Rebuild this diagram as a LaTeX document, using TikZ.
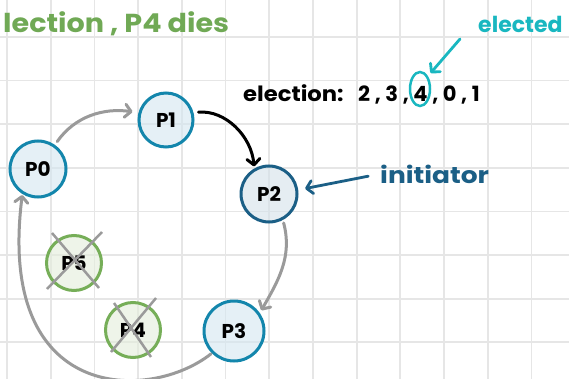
\documentclass[tikz,border=0pt]{standalone}
\usepackage{fontspec}
\setmainfont{Poppins}
\usetikzlibrary{arrows.meta,shapes.geometric}
\definecolor{gridc}{HTML}{E6E6E6}
\definecolor{teal1}{HTML}{1386AC}
\definecolor{tealfill}{HTML}{D4E7F0}
\definecolor{navy}{HTML}{1B5F86}
\definecolor{navyfill}{HTML}{D5E2EA}
\definecolor{greenc}{HTML}{76AE58}
\definecolor{greenfill}{HTML}{E3EEDB}
\definecolor{grayc}{HTML}{9A9A9A}
\definecolor{cyanc}{HTML}{19B7C0}
\definecolor{titlegreen}{HTML}{70A955}
\tikzset{
  proc/.style={circle, line width=3pt, minimum size=55pt, inner sep=0pt,
    font=\fontsize{20}{20}\selectfont\bfseries, text=black},
  alive/.style={proc, draw=teal1, fill=tealfill, fill opacity=0.6, text opacity=1},
  starter/.style={proc, draw=navy, fill=navyfill, fill opacity=0.6, text opacity=1},
  dead/.style={proc, draw=greenc, fill=greenfill, fill opacity=0.6, text opacity=1},
  cross/.style={draw=grayc, line width=2.5pt},
  barb/.style={-{Straight Barb[length=6pt,width=13pt,round]}},
  msg/.style={line width=3pt, line cap=round, barb},
  hand/.style={inner sep=0pt, anchor=base west},
}
\begin{document}
\begin{tikzpicture}[x=1pt,y=-1pt]
\useasboundingbox (0,0) rectangle (569,379);
\fill[white] (0,0) rectangle (569,379);
\foreach \i in {0,...,12} \draw[gridc, line width=1.8pt] ({7+43.7*\i},0) -- ({7+43.7*\i},379);
\foreach \j in {0,...,7} \draw[gridc, line width=1.8pt] (0,{37+43.6*\j}) -- (569,{37+43.6*\j});

% processes
\node[alive, minimum size=56pt] (P0) at (38,169) {P0};
\node[alive, minimum size=54pt] (P1) at (166,120) {P1};
\node[starter, minimum size=56pt] (P2) at (269,194) {P2};
\node[alive, minimum size=60pt] (P3) at (234,331) {P3};
\node[dead] (P5) at (74,263) {P5};
\node[dead] (P4) at (133,330) {P4};

% crosses on dead processes
\draw[cross] ([shift={(-22,-30)}]P5.center) -- ([shift={(25,25)}]P5.center);
\draw[cross] ([shift={(28,-31)}]P5.center) -- ([shift={(-27,26)}]P5.center);
\draw[cross] ([shift={(-19,-27)}]P4.center) -- ([shift={(18,27)}]P4.center);
\draw[cross] ([shift={(23,-32)}]P4.center) -- ([shift={(-22,22)}]P4.center);

% ring messages
\draw[msg, grayc, shorten <=4pt, shorten >=6pt] (P0.55) to[out=55, in=172] (P1.165);
\draw[msg, black, shorten <=5pt, shorten >=2pt] (P1.15) to[out=5, in=95] (P2.120);
\draw[msg, grayc, shorten <=3pt, shorten >=3pt] (P2.-62) to[out=-75, in=60] (P3.35);
\draw[msg, grayc, shorten <=1pt, shorten >=1pt] (P3.225) .. controls (150,402) and (-4,404) .. (P0.-122);

% texts
\node[hand, text=titlegreen, font=\fontsize{26}{26}\selectfont\bfseries] (title) at (3,33) {\scalebox{1.1}[1]{lection , P4 dies}};
\node[hand, text=black, font=\fontsize{21}{21}\selectfont\bfseries] (elec) at (243,102) {\scalebox{1.08}[1]{election:}};
\node[hand, text=black, font=\fontsize{21}{21}\selectfont\bfseries\addfontfeature{LetterSpace=22}] (order) at (358,102) {2,3,4,0,1};
\node[hand, text=cyanc, font=\fontsize{22}{22}\selectfont\bfseries] (elected) at (478,33) {elected};
\node[hand, text=navy, font=\fontsize{23}{23}\selectfont\bfseries] (init) at (380,183) {\scalebox{1.15}[1]{initiator}};

% initiator arrow
\draw[msg, navy, line width=2.8pt, shorten <=12pt, shorten >=7pt] (init.west) -- (P2.8);

% elected marker
\node[draw=cyanc, line width=2.5pt, ellipse, minimum width=20pt, minimum height=34pt, inner sep=0pt] (ring4) at (420,89) {};
\coordinate (etail) at (460,39);
\draw[msg, cyanc, line width=2.8pt, shorten >=4pt] (etail) -- (ring4.north east);
\end{tikzpicture}
\end{document}
